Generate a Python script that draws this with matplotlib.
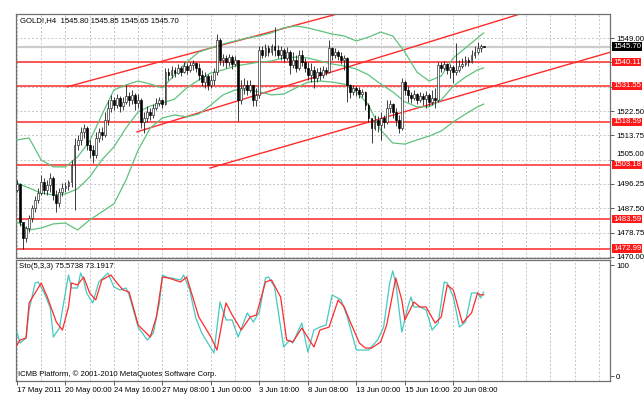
import matplotlib
matplotlib.use("Agg")
import matplotlib.pyplot as plt
import matplotlib.transforms as mtransforms
import numpy as np

plt.rcParams['font.family'] = ['Liberation Sans', 'DejaVu Sans']

# GOLD H4 candles, bar 0 = first visible bar (17 May 2011)
first_open = 1494.1
closes = [
    1496.3, 1482.6, 1476.8, 1480.4, 1484.0, 1487.6, 1490.5, 1493.0, 1497.0, 1494.1,
    1495.9, 1498.4, 1492.3, 1489.4, 1493.4, 1494.8, 1495.5, 1497.0, 1503.1, 1510.3,
    1512.1, 1515.0, 1516.4, 1510.3, 1508.5, 1506.7, 1512.8, 1515.0, 1513.9, 1519.3,
    1523.6, 1526.5, 1524.7, 1527.2, 1524.3, 1525.8, 1527.9, 1526.5, 1528.3, 1525.4,
    1526.5, 1518.6, 1520.0, 1522.2, 1521.1, 1523.6, 1525.4, 1526.5, 1525.0, 1536.5,
    1535.5, 1537.3, 1536.2, 1538.0, 1536.5, 1538.7, 1537.3, 1539.1, 1539.8, 1538.0,
    1535.5, 1532.9, 1535.1, 1531.9, 1533.7, 1536.5, 1548.1, 1540.9, 1541.6, 1540.1,
    1541.9, 1539.4, 1540.9, 1526.5, 1530.8, 1531.9, 1530.1, 1531.9, 1526.5, 1528.3,
    1544.5, 1542.7, 1545.2, 1543.7, 1545.9, 1544.5, 1542.7, 1544.5, 1541.6, 1543.7,
    1539.1, 1540.9, 1538.0, 1542.7, 1540.1, 1538.0, 1535.5, 1537.3, 1534.4, 1536.5,
    1535.5, 1537.3, 1536.5, 1545.2, 1542.7, 1543.7, 1542.3, 1540.9, 1541.6, 1531.9,
    1529.4, 1530.8, 1530.1, 1528.6, 1529.4, 1524.7, 1520.0, 1516.4, 1519.3, 1517.5,
    1520.0, 1518.6, 1523.6, 1525.0, 1522.2, 1519.3, 1516.4, 1532.9, 1530.1, 1528.3,
    1527.2, 1528.6, 1526.5, 1527.9, 1526.8, 1528.3, 1525.8, 1527.2, 1526.5, 1539.1,
    1538.0, 1539.4, 1537.3, 1538.3, 1536.5, 1537.3, 1538.7, 1539.4, 1540.9, 1540.1,
    1542.7, 1543.7, 1545.2, 1545.8, 1545.7,
]
highs = [
    1497.7, 1496.6, 1482.6, 1481.2, 1485.1, 1488.7, 1491.9, 1494.8, 1499.5, 1498.4,
    1497.7, 1500.2, 1499.1, 1494.1, 1494.8, 1496.6, 1497.0, 1497.7, 1504.9, 1512.8,
    1513.9, 1516.8, 1517.8, 1517.1, 1512.1, 1510.3, 1515.0, 1516.4, 1516.8, 1522.2,
    1526.5, 1528.3, 1527.6, 1528.6, 1527.9, 1527.6, 1531.9, 1529.4, 1530.1, 1529.0,
    1528.6, 1527.2, 1522.2, 1524.3, 1523.6, 1525.0, 1527.2, 1527.6, 1526.8, 1538.0,
    1538.0, 1538.7, 1538.3, 1539.4, 1538.7, 1540.1, 1539.8, 1540.1, 1540.9, 1540.1,
    1539.8, 1537.3, 1536.5, 1535.8, 1535.5, 1538.0, 1550.2, 1548.8, 1543.0, 1542.7,
    1543.0, 1542.7, 1542.3, 1540.9, 1533.7, 1534.4, 1533.7, 1533.7, 1531.9, 1530.8,
    1545.9, 1545.9, 1546.6, 1546.3, 1546.6, 1552.7, 1546.3, 1545.9, 1545.2, 1545.5,
    1544.5, 1543.7, 1542.7, 1544.5, 1544.5, 1541.6, 1540.1, 1539.8, 1538.7, 1538.0,
    1538.3, 1538.7, 1538.3, 1548.1, 1545.5, 1545.2, 1544.5, 1543.7, 1542.7, 1541.9,
    1532.2, 1531.9, 1531.5, 1531.2, 1530.4, 1529.7, 1525.4, 1520.0, 1521.1, 1520.7,
    1522.2, 1521.1, 1526.5, 1526.5, 1525.4, 1523.6, 1521.1, 1534.4, 1533.7, 1531.5,
    1529.4, 1530.1, 1529.0, 1529.4, 1529.0, 1529.7, 1529.0, 1530.1, 1530.8, 1540.1,
    1540.1, 1540.5, 1539.8, 1539.4, 1539.1, 1547.0, 1540.9, 1541.6, 1542.3, 1541.9,
    1544.5, 1545.9, 1547.3, 1546.6, 1545.85,
]
lows = [
    1493.4, 1481.2, 1472.99, 1475.4, 1479.0, 1482.6, 1486.2, 1489.4, 1492.3, 1492.7,
    1492.3, 1493.4, 1490.5, 1486.2, 1488.0, 1491.9, 1493.4, 1494.1, 1495.2, 1486.9,
    1508.5, 1510.3, 1512.8, 1508.5, 1505.6, 1503.8, 1505.6, 1511.4, 1512.1, 1513.2,
    1517.5, 1522.2, 1522.9, 1523.6, 1522.2, 1522.9, 1525.0, 1524.3, 1525.0, 1522.9,
    1523.6, 1516.4, 1514.6, 1518.6, 1519.3, 1520.0, 1522.9, 1524.3, 1523.6, 1524.7,
    1533.7, 1534.4, 1534.7, 1535.8, 1535.1, 1536.2, 1535.8, 1536.5, 1537.3, 1536.5,
    1533.7, 1531.5, 1530.8, 1530.1, 1530.8, 1531.9, 1535.5, 1539.1, 1538.7, 1538.0,
    1538.7, 1537.6, 1538.7, 1518.9, 1525.0, 1528.6, 1528.3, 1529.4, 1524.3, 1524.3,
    1527.2, 1541.6, 1541.9, 1542.3, 1542.7, 1542.3, 1541.6, 1540.9, 1540.1, 1540.9,
    1535.8, 1538.0, 1536.5, 1537.3, 1538.7, 1536.5, 1533.7, 1532.9, 1530.8, 1532.9,
    1533.7, 1534.4, 1535.5, 1536.2, 1540.9, 1541.6, 1540.9, 1539.4, 1537.3, 1525.8,
    1527.2, 1528.3, 1527.9, 1527.2, 1527.6, 1522.9, 1518.6, 1511.0, 1515.7, 1515.0,
    1512.1, 1516.4, 1517.8, 1521.8, 1520.0, 1517.1, 1514.6, 1515.7, 1528.3, 1525.8,
    1525.4, 1526.5, 1525.0, 1525.8, 1524.7, 1523.6, 1524.3, 1524.7, 1523.6, 1525.8,
    1536.5, 1537.3, 1535.8, 1534.4, 1532.6, 1535.5, 1536.5, 1538.0, 1538.7, 1538.7,
    1539.8, 1541.6, 1543.0, 1543.7, 1545.65,
]

# Bollinger bands read every few bars
band_bars = [0, 4, 8, 12, 16, 20, 24, 28, 32, 36, 40, 44, 48, 52, 56, 60, 64, 68, 72, 76,
             80, 84, 88, 92, 96, 100, 104, 108, 112, 116, 120, 124, 128, 132, 136, 140,
             144, 148, 152, 154]
band_upper = [1512.1, 1512.8, 1504.9, 1502.4, 1502.4, 1506.0, 1511.7, 1521.1, 1530.1, 1531.9,
              1533.3, 1532.2, 1530.8, 1535.5, 1540.1, 1543.7, 1545.2, 1546.6, 1547.7, 1548.8,
              1549.5, 1550.6, 1552.4, 1553.1, 1552.4, 1551.3, 1550.2, 1549.5, 1547.7, 1549.1,
              1550.9, 1549.5, 1543.7, 1536.5, 1533.3, 1535.1, 1541.6, 1545.2, 1548.8, 1550.6]
band_mid = [1496.6, 1494.8, 1493.0, 1492.3, 1492.7, 1494.5, 1498.8, 1504.9, 1509.6, 1516.4,
            1522.2, 1524.3, 1525.4, 1526.8, 1530.8, 1533.7, 1536.2, 1537.3, 1538.7, 1539.4,
            1540.1, 1540.5, 1541.6, 1541.9, 1541.6, 1540.5, 1539.4, 1538.7, 1537.6, 1535.5,
            1532.2, 1529.4, 1525.8, 1524.0, 1524.0, 1526.5, 1531.5, 1534.7, 1537.3, 1538.0]
band_lower = [1482.6, 1479.7, 1480.4, 1481.9, 1482.2, 1479.7, 1483.3, 1486.2, 1489.1, 1497.7,
              1508.5, 1516.4, 1520.0, 1521.1, 1520.4, 1521.4, 1524.7, 1528.3, 1530.1, 1530.1,
              1529.4, 1528.3, 1528.6, 1530.8, 1532.9, 1533.3, 1532.9, 1532.2, 1529.4, 1524.7,
              1515.7, 1511.0, 1510.6, 1512.1, 1513.5, 1515.3, 1518.6, 1521.4, 1524.0, 1525.0]

level_prices = [1540.11, 1531.55, 1518.59, 1503.18, 1483.59, 1472.99]
bid_price = 1545.70

# trend lines: start point and a second point (bar, price), drawn as rays
trend_lines = [((16.5, 1531.2), (105.6, 1557.4)),
               ((39.6, 1515.0), (166.0, 1557.4)),
               ((63.7, 1502.0), (195.0, 1543.4))]

# Stochastic(5,3,3)
sto_main_bars = [0, 1, 3, 4, 6, 7, 9, 11, 12, 14, 15, 17, 18, 20, 21, 22, 23, 25, 27, 30,
                 32, 34, 36, 37, 40, 43, 45, 47, 48, 50, 51, 54, 55, 57, 59, 61, 63, 65, 67, 69,
                 71, 73, 76, 78, 80, 82, 83, 85, 88, 90, 91, 94, 96, 98, 100, 102, 104, 107, 109, 112,
                 113, 116, 119, 121, 123, 124, 125, 127, 129, 130, 131, 133, 135, 137, 139, 141, 142, 144,
                 146, 148, 150, 152, 153, 154]
sto_main = [39.6, 29.7, 34.2, 59.5, 83.8, 84.7, 74.8, 61.3, 35.1, 43.2, 59.5, 91.0, 79.3, 79.3,
            92.8, 86.5, 74.8, 65.8, 84.7, 92.8, 80.2, 77.5, 79.3, 73.0, 44.1, 32.4, 38.7, 65.8,
            91.0, 88.3, 88.3, 86.5, 91.0, 77.5, 52.3, 38.7, 29.7, 20.7, 66.7, 50.5, 50.5, 35.1,
            56.8, 48.6, 57.7, 88.3, 89.2, 80.2, 26.1, 32.4, 29.7, 47.7, 21.6, 41.4, 44.1, 45.9,
            73.0, 68.5, 53.2, 23.4, 23.4, 23.4, 32.4, 44.1, 83.8, 94.6, 83.8, 39.6, 62.2, 71.2,
            62.2, 62.2, 59.5, 41.4, 47.7, 84.7, 83.8, 71.2, 44.1, 48.6, 74.8, 74.8, 70.3, 75.57]
sto_signal_bars = [0, 1, 3, 4, 8, 10, 13, 15, 17, 18, 20, 22, 24, 26, 28, 31, 33, 35, 37, 40,
                   44, 46, 48, 50, 54, 56, 58, 60, 64, 66, 68, 69, 71, 74, 77, 79, 82, 84, 87, 89,
                   91, 94, 98, 100, 103, 106, 108, 110, 113, 115, 117, 120, 122, 125, 127, 128, 131, 133,
                   135, 138, 140, 142, 144, 147, 150, 152, 153, 154]
sto_signal = [27.9, 32.4, 34.2, 65.8, 83.8, 71.2, 48.6, 41.4, 62.2, 83.8, 82.0, 89.2, 74.8, 68.5,
              86.5, 91.0, 83.8, 77.5, 75.7, 45.9, 35.1, 53.2, 89.2, 88.3, 84.7, 89.2, 71.2, 53.2,
              35.1, 23.4, 53.2, 65.8, 55.0, 41.4, 53.2, 55.0, 84.7, 86.5, 71.2, 32.4, 30.6, 43.2,
              26.1, 41.4, 44.1, 68.5, 62.2, 48.6, 29.7, 25.2, 25.2, 30.6, 45.9, 88.3, 68.5, 50.5,
              66.7, 62.2, 62.2, 47.7, 53.2, 82.0, 77.5, 47.7, 56.8, 74.8, 73.0, 73.19]

date_bars = [0, 16, 32, 48, 64, 80, 96, 112, 128, 144]
date_labels = ["17 May 2011", "20 May 00:00", "24 May 16:00", "27 May 08:00", "1 Jun 00:00",
               "3 Jun 16:00", "8 Jun 08:00", "13 Jun 00:00", "15 Jun 16:00", "20 Jun 08:00"]
price_ticks = [1470.00, 1478.75, 1487.50, 1496.25, 1505.00, 1513.75, 1522.50, 1531.25, 1540.00, 1548.75]
# 1531.25 and 1540.00 sit under the red level boxes, so they show no text
price_tick_labels = ["1470.00", "1478.75", "1487.50", "1496.25", "1505.00", "1513.75",
                     "1522.50", "", "", "1549.00"]

FS = 5.6
GRID = dict(color='#c4c4c4', linestyle=(0, (2, 2)), linewidth=0.7)
SPINE = '#707070'

fig = plt.figure(figsize=(6.44, 3.98), dpi=100)
fig.patch.set_facecolor('white')
ax = fig.add_axes([0.0248, 0.3530, 0.9224, 0.6118])
ax2 = fig.add_axes([0.0248, 0.0427, 0.9224, 0.3040], sharex=ax)

for a in (ax, ax2):
    for s in a.spines.values():
        s.set_color(SPINE)
        s.set_linewidth(0.9)
    a.set_xticks(np.arange(0, 196, 8), minor=True)
    a.grid(True, which='both', axis='x', **GRID)
    a.set_axisbelow(True)

# ---- price panel
ax.set_xlim(-0.33, 195.7)
ax.set_ylim(1469.8, 1557.4)
ax.set_yticks(price_ticks)
ax.set_yticklabels(price_tick_labels)
ax.grid(True, axis='y', **GRID)
ax.tick_params(axis='y', left=False, right=True, labelleft=False, labelright=True,
               length=3, width=0.6, pad=1.5, labelsize=FS, color='#404040')
ax.tick_params(axis='x', which='both', bottom=False, labelbottom=False)
# the 1505.00 label sits just above the 1503.18 box
lbl = ax.get_yticklabels()[4]
lbl.set_transform(lbl.get_transform() + mtransforms.ScaledTranslation(0, 4.5 / 72, fig.dpi_scale_trans))

ax.axhline(bid_price, color='#cccccc', lw=1.6, zorder=1)
for p in level_prices:
    ax.axhline(p, color='#ff2a2a', lw=1.1, zorder=2)

for (x0, y0), (x1, y1) in trend_lines:
    k = (y1 - y0) / (x1 - x0)
    ax.plot([x0, 200], [y0, y0 + k * (200 - x0)], color='#ff2a2a', lw=1.0, zorder=2)

for band in (band_upper, band_mid, band_lower):
    ax.plot(band_bars, band, color='#5ec27c', lw=0.9, zorder=3)

c = np.array(closes)
o = np.array([first_open] + closes[:-1])
h = np.array(highs)
l = np.array(lows)
x = np.arange(len(c))
up = c >= o
ax.vlines(x, l, h, color='#1e1e1e', lw=0.6, zorder=4)
body = np.maximum(np.abs(c - o), 0.15)
ax.bar(x[up], body[up], bottom=o[up], width=0.62, color='white',
       edgecolor='#1e1e1e', linewidth=0.45, zorder=5)
ax.bar(x[~up], body[~up], bottom=c[~up], width=0.62, color='black',
       edgecolor='black', linewidth=0.45, zorder=5)

ax.text(0.006, 0.975, "GOLD!,H4  1545.80 1545.85 1545.65 1545.70", transform=ax.transAxes,
        ha='left', va='center', fontsize=FS, color='black')

trans = mtransforms.blended_transform_factory(ax.transAxes, ax.transData)
for p in level_prices:
    ax.text(1.005, p, f"{p:.2f}", transform=trans, ha='left', va='center', fontsize=FS,
            color='white', clip_on=False, zorder=10,
            bbox=dict(facecolor='#ff1a1a', edgecolor='none', pad=0.5))
ax.text(1.005, bid_price, f"{bid_price:.2f}", transform=trans, ha='left', va='center',
        fontsize=FS, color='white', clip_on=False, zorder=10,
        bbox=dict(facecolor='black', edgecolor='none', pad=0.5))

# ---- stochastic panel
ax2.set_ylim(-4.5, 104.5)
ax2.plot(sto_main_bars, sto_main, color='#45c8c0', lw=0.9, zorder=3)
ax2.plot(sto_signal_bars, sto_signal, color='#ff2a2a', lw=0.9, zorder=4)
ax2.set_yticks([0, 100])
ax2.set_yticklabels(["0", "100"])
ax2.tick_params(axis='y', left=False, right=True, labelleft=False, labelright=True,
                length=3, width=0.6, pad=1.5, labelsize=FS, color='#404040')
ax2.set_xticks(date_bars)
ax2.set_xticklabels(date_labels, ha='left')
ax2.tick_params(axis='x', which='major', length=3, width=0.6, pad=1.5, labelsize=FS,
                color='#404040', direction='out')
ax2.tick_params(axis='x', which='minor', length=0)
ax2.text(0.005, 0.95, "Sto(5,3,3) 75.5738 73.1917", transform=ax2.transAxes,
         ha='left', va='center', fontsize=FS, color='black')
ax2.text(0.003, 0.06, "ICMB Platform, \u00a9 2001-2010 MetaQuotes Software Corp.",
         transform=ax2.transAxes, ha='left', va='center', fontsize=FS, color='black')

fig.savefig("out.png", dpi=100, facecolor='white')
